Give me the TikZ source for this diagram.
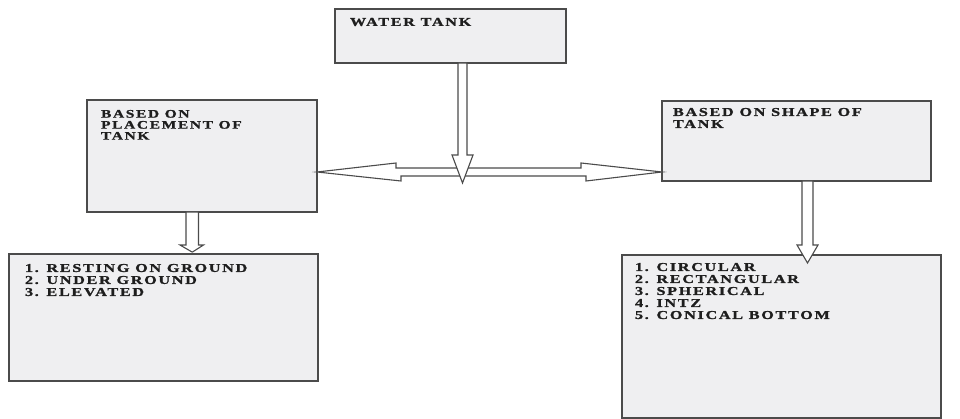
\documentclass[tikz,border=0pt]{standalone}
\usepackage{fontspec}
\setmainfont{Liberation Serif}
\newfontfamily\bigtxt[FakeStretch=1.35,LetterSpace=14,FakeBold=1.2]{Liberation Serif}
\usetikzlibrary{calc}
\definecolor{boxfill}{RGB}{239,239,241}
\definecolor{edge}{RGB}{75,75,75}
\definecolor{ink}{RGB}{30,30,30}
\tikzset{
  box/.style={draw=edge, line width=1.8pt, fill=boxfill, rectangle, inner sep=0pt, outer sep=0pt, anchor=north west},
  txt/.style={inner sep=0pt, outer sep=0pt, anchor=north west, align=left, text=ink, font=\bigtxt\bfseries\fontsize{12}{12}\selectfont},
  stxt/.style={txt, font=\bigtxt\bfseries\fontsize{11.5}{11}\selectfont},
  fatarrow/.style={draw=edge, line width=1.1pt, fill=white, line join=miter}
}
\begin{document}
\begin{tikzpicture}[x=1pt,y=-1pt]
\useasboundingbox (0,0) rectangle (960,419);
% boxes
\node[box, minimum width=231pt, minimum height=54pt] (wt) at (335,9) {};
\node[box, minimum width=230pt, minimum height=112pt] (pl) at (87,100) {};
\node[box, minimum width=269pt, minimum height=80pt] (sh) at (662,101) {};
\node[box, minimum width=309pt, minimum height=127pt] (pll) at (9,254) {};
\node[box, minimum width=319pt, minimum height=163pt] (shl) at (622,255) {};
% texts
\node[txt] (wtt) at (350,18) {WATER TANK};
\node[stxt] (plt) at (101,110) {BASED ON\\PLACEMENT OF\\TANK};
\node[txt] (sht) at (673,108) {BASED ON SHAPE OF\\TANK};
\node[txt] (pllt) at (25,264) {1. RESTING ON GROUND\\2. UNDER GROUND\\3. ELEVATED};
\node[txt] (shlt) at (635,263) {1. CIRCULAR\\2. RECTANGULAR\\3. SPHERICAL\\4. INTZ\\5. CONICAL BOTTOM};
% horizontal double arrow between the two classification boxes
\coordinate (hl) at ($(pl.east)+(0,16)$);
\coordinate (hr) at ($(sh.west)+(0,31)$);
\draw[fatarrow] (hl) -- ++(79,-9) -- ++(0,5) -- ++(185,0) -- ++(0,-5) -- (hr) -- ++(-76,9) -- ++(0,-5) -- ++(-185,0) -- ++(0,5) -- cycle;
% arrow from water tank down to the double arrow
\draw[fatarrow] ($(wt.south)+(7.5,0)$) -- ++(0,92) -- ++(-6,0) -- ++(10.5,28) -- ++(10.5,-28) -- ++(-6,0) -- ++(0,-92) -- cycle;
% arrow from placement box to its list
\draw[fatarrow] ($(pl.south)+(-16,0)$) -- ++(0,33) -- ++(-6,0) -- ++(12,7) -- ($(pll.north)+(29,-2)$) -- ++(11,-7) -- ++(-5,0) -- ++(0,-33) -- cycle;
% arrow from shape box to its list
\draw[fatarrow] ($(sh.south)+(5.5,0)$) -- ++(0,64) -- ++(-5,0) -- ++(10.5,18) -- ++(10.5,-18) -- ++(-5,0) -- ++(0,-64) -- cycle;
\end{tikzpicture}
\end{document}
